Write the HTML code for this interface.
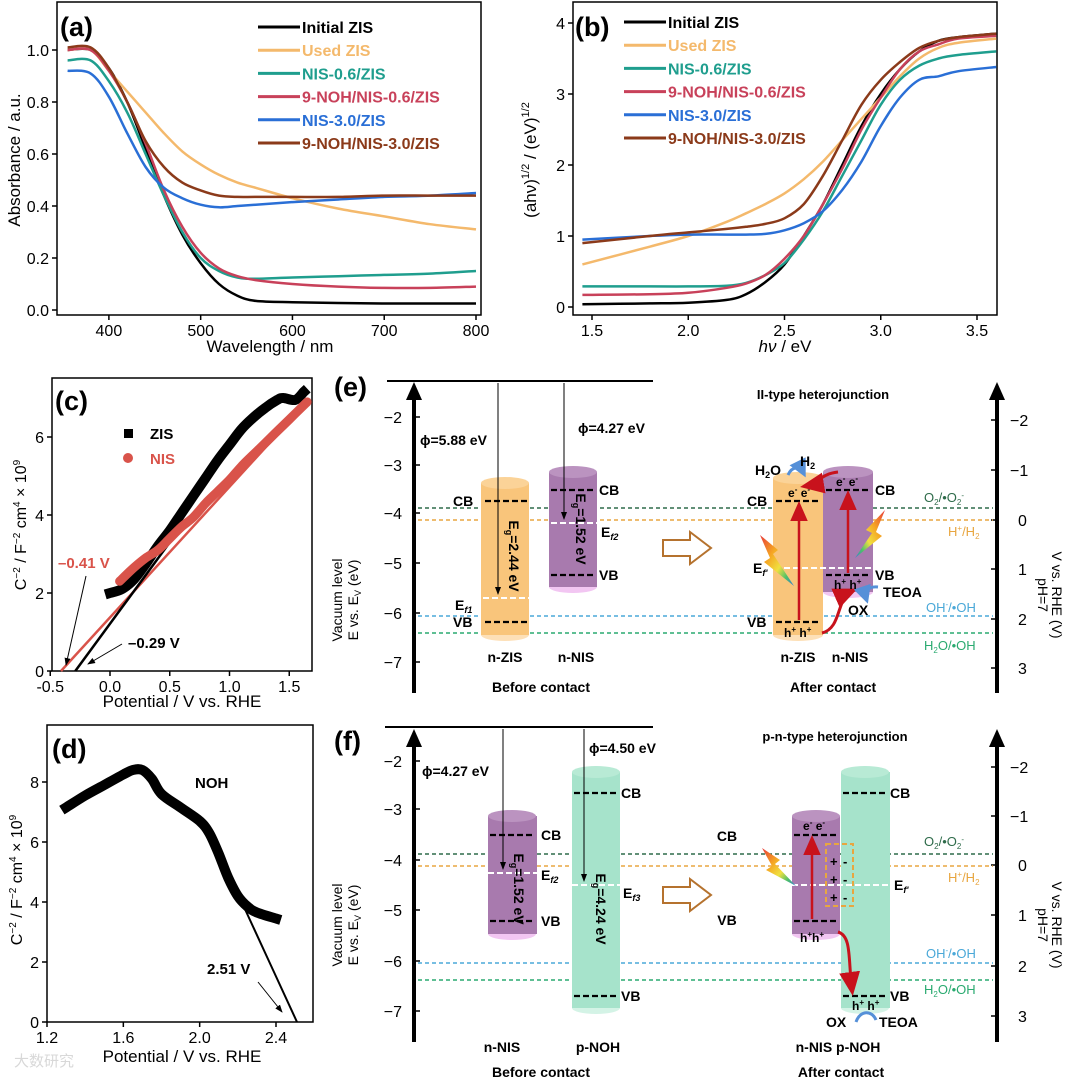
<!DOCTYPE html>
<html><head><meta charset="utf-8">
<style>
html,body{margin:0;padding:0;background:#fff;}
svg{display:block;font-family:"Liberation Sans",Arial,sans-serif;}
.b{font-weight:bold;}
</style></head>
<body>
<svg id="fig" width="1080" height="1079" viewBox="0 0 1080 1079" xmlns="http://www.w3.org/2000/svg">
<defs>
<linearGradient id="rb" x1="0" y1="0" x2="1" y2="1">
<stop offset="0" stop-color="#e83a3a"/><stop offset="0.35" stop-color="#f5a623"/><stop offset="0.6" stop-color="#f0e040"/><stop offset="0.8" stop-color="#4cc06a"/><stop offset="1" stop-color="#3a7ad8"/>
</linearGradient>
<linearGradient id="rb2" x1="1" y1="0" x2="0" y2="1">
<stop offset="0" stop-color="#e83a3a"/><stop offset="0.35" stop-color="#f5a623"/><stop offset="0.6" stop-color="#f0e040"/><stop offset="0.8" stop-color="#4cc06a"/><stop offset="1" stop-color="#3a7ad8"/>
</linearGradient>
<marker id="ah" markerWidth="8" markerHeight="8" refX="7" refY="4" orient="auto"><path d="M0,1 L8,4 L0,7 z" fill="#000"/></marker>
<marker id="ahr" markerWidth="8" markerHeight="8" refX="6" refY="4" orient="auto"><path d="M0,0.5 L8,4 L0,7.5 z" fill="#c8121c"/></marker>
<marker id="ahb" markerWidth="6" markerHeight="6" refX="4" refY="3" orient="auto"><path d="M0,0 L6,3 L0,6 z" fill="#5590d8"/></marker>
</defs>

<!-- ============ Panel (a) ============ -->
<g id="pa">
<rect x="57" y="2" width="424" height="313" fill="none" stroke="#000" stroke-width="1.5"/>
<g id="pa-axes"></g>
<g id="pa-lines"></g>
<text x="60" y="36" font-size="27" class="b">(a)</text>
<text transform="translate(20,160) rotate(-90)" text-anchor="middle" font-size="17">Absorbance / a.u.</text>
<text x="270" y="352" text-anchor="middle" font-size="17">Wavelength / nm</text>
<g id="pa-legend"></g>
</g>

<!-- ============ Panel (b) ============ -->
<g id="pb">
<rect x="573" y="2" width="424" height="313" fill="none" stroke="#000" stroke-width="1.5"/>
<g id="pb-axes"></g>
<g id="pb-lines"></g>
<text x="575" y="36" font-size="27" class="b">(b)</text>
<text transform="translate(536,160) rotate(-90)" text-anchor="middle" font-size="17">(ahν)<tspan font-size="11" dy="-7">1/2</tspan><tspan dy="7"> / (eV)</tspan><tspan font-size="11" dy="-7">1/2</tspan></text>
<text x="785" y="352" text-anchor="middle" font-size="17"><tspan font-style="italic">hν</tspan> / eV</text>
<g id="pb-legend"></g>
</g>

<!-- ============ Panel (c) ============ -->
<g id="pc">
<rect x="52" y="378" width="260" height="293" fill="none" stroke="#000" stroke-width="1.5"/>
<g id="pc-axes"></g>
<g id="pc-lines"></g>
<text x="55" y="410" font-size="27" class="b">(c)</text>
<rect x="124" y="429" width="9" height="9" fill="#000"/>
<text x="150" y="439" font-size="15" class="b">ZIS</text>
<circle cx="128" cy="458" r="5" fill="#d9534a"/>
<text x="150" y="464" font-size="15" class="b" fill="#d9534a">NIS</text>
<text x="58" y="568" font-size="15" class="b" fill="#d9534a">–0.41 V</text>
<line x1="86" y1="576" x2="66" y2="665" stroke="#000" stroke-width="1" marker-end="url(#ah)"/>
<text x="128" y="648" font-size="15" class="b">–0.29 V</text>
<line x1="122" y1="644" x2="88" y2="664" stroke="#000" stroke-width="1" marker-end="url(#ah)"/>
<text transform="translate(26,525) rotate(-90)" text-anchor="middle" font-size="16">C<tspan font-size="10" dy="-6">−2</tspan><tspan dy="6"> / F</tspan><tspan font-size="10" dy="-6">−2</tspan><tspan dy="6"> cm</tspan><tspan font-size="10" dy="-6">4</tspan><tspan dy="6"> × 10</tspan><tspan font-size="10" dy="-6">9</tspan></text>
<text x="182" y="707" text-anchor="middle" font-size="17">Potential / V vs. RHE</text>
</g>

<!-- ============ Panel (d) ============ -->
<g id="pd">
<rect x="47" y="725" width="266" height="297" fill="none" stroke="#000" stroke-width="1.5"/>
<g id="pd-axes"></g>
<g id="pd-lines"></g>
<text x="52" y="758" font-size="27" class="b">(d)</text>
<text x="195" y="788" font-size="15" class="b">NOH</text>
<text x="207" y="974" font-size="15" class="b">2.51 V</text>
<line x1="258" y1="982" x2="282" y2="1012" stroke="#000" stroke-width="1" marker-end="url(#ah)"/>
<text transform="translate(22,880) rotate(-90)" text-anchor="middle" font-size="16">C<tspan font-size="10" dy="-6">−2</tspan><tspan dy="6"> / F</tspan><tspan font-size="10" dy="-6">−2</tspan><tspan dy="6"> cm</tspan><tspan font-size="10" dy="-6">4</tspan><tspan dy="6"> × 10</tspan><tspan font-size="10" dy="-6">9</tspan></text>
<text x="182" y="1062" text-anchor="middle" font-size="17">Potential / V vs. RHE</text>
<text x="14" y="1066" font-size="15" fill="#d8d8d8">大数研究</text>
</g>

<!-- ============ Panel (e) ============ -->
<g id="pe" font-size="13">
<text x="334" y="396" font-size="27" class="b">(e)</text>
<line x1="387" y1="381" x2="653" y2="381" stroke="#000" stroke-width="2"/>
<line x1="414" y1="693" x2="414" y2="398" stroke="#000" stroke-width="4"/>
<path d="M406,400 L414,382 L422,400 z" fill="#000"/>
<line x1="997" y1="693" x2="997" y2="398" stroke="#000" stroke-width="4"/>
<path d="M989,400 L997,382 L1005,400 z" fill="#000"/>
<g font-size="16" text-anchor="end">
<text x="402" y="423">−2</text><text x="402" y="471">−3</text><text x="402" y="519">−4</text><text x="402" y="569">−5</text><text x="402" y="619">−6</text><text x="402" y="668">−7</text>
</g>
<g stroke="#000" stroke-width="1.5">
<line x1="414" y1="417" x2="420" y2="417"/><line x1="414" y1="465" x2="420" y2="465"/><line x1="414" y1="513" x2="420" y2="513"/><line x1="414" y1="563" x2="420" y2="563"/><line x1="414" y1="613" x2="420" y2="613"/><line x1="414" y1="662" x2="420" y2="662"/>
<line x1="991" y1="420" x2="997" y2="420"/><line x1="991" y1="470" x2="997" y2="470"/><line x1="991" y1="520" x2="997" y2="520"/><line x1="991" y1="569" x2="997" y2="569"/><line x1="991" y1="619" x2="997" y2="619"/><line x1="991" y1="668" x2="997" y2="668"/>
</g>
<g font-size="16">
<text x="1010" y="426">−2</text><text x="1010" y="476">−1</text><text x="1018" y="526">0</text><text x="1018" y="575">1</text><text x="1018" y="625">2</text><text x="1018" y="674">3</text>
</g>
<text transform="translate(342,600) rotate(-90)" text-anchor="middle" font-size="14">Vacuum level</text>
<text transform="translate(358,600) rotate(-90)" text-anchor="middle" font-size="14">E vs. E<tspan font-size="9" dy="3">V</tspan><tspan dy="-3"> (eV)</tspan></text>
<text transform="translate(1052,595) rotate(90)" text-anchor="middle" font-size="14">V vs. RHE (V)</text>
<text transform="translate(1038,595) rotate(90)" text-anchor="middle" font-size="14">pH=7</text>
<line x1="418" y1="508" x2="993" y2="508" stroke="#2e6b4a" stroke-width="1.5" stroke-dasharray="4,3"/>
<line x1="418" y1="520" x2="993" y2="520" stroke="#e8a640" stroke-width="1.5" stroke-dasharray="4,3"/>
<line x1="418" y1="616" x2="993" y2="616" stroke="#4aa8d8" stroke-width="1.5" stroke-dasharray="4,3"/>
<line x1="418" y1="633" x2="993" y2="633" stroke="#2aaa70" stroke-width="1.5" stroke-dasharray="4,3"/>
<text x="924" y="502" fill="#2e6b4a" font-size="13">O<tspan font-size="8" dy="3">2</tspan><tspan dy="-3">/•O</tspan><tspan font-size="8" dy="3">2</tspan><tspan font-size="8" dy="-7">-</tspan></text>
<text x="948" y="536" fill="#e8a640" font-size="13">H<tspan font-size="8" dy="-5">+</tspan><tspan dy="5">/H</tspan><tspan font-size="8" dy="3">2</tspan></text>
<text x="926" y="612" fill="#4aa8d8" font-size="13">OH<tspan font-size="8" dy="-5">-</tspan><tspan dy="5">/•OH</tspan></text>
<text x="924" y="650" fill="#2aaa70" font-size="13">H<tspan font-size="8" dy="3">2</tspan><tspan dy="-3">O/•OH</tspan></text>
<g>
<ellipse cx="505" cy="635" rx="24" ry="6" fill="#fde0b8"/>
<rect x="481" y="483" width="48" height="152" fill="#f9c57b"/>
<ellipse cx="505" cy="483" rx="24" ry="6" fill="#fbd398"/>
</g>
<g>
<ellipse cx="573" cy="587" rx="24" ry="6" fill="#f2c6f2"/>
<rect x="549" y="472" width="48" height="115" fill="#a87aae"/>
<ellipse cx="573" cy="472" rx="24" ry="6" fill="#bb93c0"/>
</g>
<g stroke="#000" stroke-width="2.2" stroke-dasharray="6,3">
<line x1="485" y1="501" x2="527" y2="501"/><line x1="485" y1="622" x2="527" y2="622"/>
<line x1="551" y1="490" x2="595" y2="490"/><line x1="551" y1="575" x2="595" y2="575"/>
</g>
<g stroke="#fff" stroke-width="2" stroke-dasharray="6,3">
<line x1="483" y1="598" x2="529" y2="598"/><line x1="551" y1="523" x2="597" y2="523"/>
</g>
<line x1="498" y1="383" x2="498" y2="594" stroke="#000" stroke-width="1" marker-end="url(#ah)"/>
<line x1="564" y1="383" x2="564" y2="519" stroke="#000" stroke-width="1" marker-end="url(#ah)"/>
<text x="420" y="445" font-size="14" class="b">ϕ=5.88 eV</text>
<text x="578" y="433" font-size="14" class="b">ϕ=4.27 eV</text>
<g font-size="14" class="b">
<text x="453" y="506">CB</text><text x="453" y="627">VB</text><text x="455" y="610">E<tspan font-size="9" font-style="italic" dy="3">f1</tspan></text>
<text x="599" y="495">CB</text><text x="599" y="580">VB</text><text x="601" y="537">E<tspan font-size="9" font-style="italic" dy="3">f2</tspan></text>
</g>
<text transform="translate(509,556) rotate(90)" text-anchor="middle" font-size="14" class="b">E<tspan font-size="9" dy="3">g</tspan><tspan dy="-3">=2.44 eV</tspan></text>
<text transform="translate(576,529) rotate(90)" text-anchor="middle" font-size="14" class="b">E<tspan font-size="9" dy="3">g</tspan><tspan dy="-3">=1.52 eV</tspan></text>
<text x="505" y="662" text-anchor="middle" font-size="14" class="b">n-ZIS</text>
<text x="576" y="662" text-anchor="middle" font-size="14" class="b">n-NIS</text>
<text x="541" y="692" text-anchor="middle" font-size="14" class="b">Before contact</text>
<path d="M663,540 L690,540 L690,532 L711,548 L690,564 L690,556 L663,556 z" fill="#fff" stroke="#b5722e" stroke-width="2"/>
<text x="823" y="399" text-anchor="middle" font-size="13" class="b">II-type heterojunction</text>
<g>
<ellipse cx="798" cy="635" rx="25" ry="6" fill="#fde0b8"/>
<rect x="773" y="478" width="50" height="157" fill="#f9c57b"/>
<ellipse cx="798" cy="478" rx="25" ry="6" fill="#fbd398"/>
</g>
<g>
<ellipse cx="848" cy="592" rx="25" ry="6" fill="#f2c6f2"/>
<rect x="823" y="472" width="50" height="120" fill="#a87aae"/>
<ellipse cx="848" cy="472" rx="25" ry="6" fill="#bb93c0"/>
</g>
<g stroke="#000" stroke-width="2.2" stroke-dasharray="6,3">
<line x1="776" y1="501" x2="820" y2="501"/><line x1="776" y1="622" x2="820" y2="622"/>
<line x1="826" y1="490" x2="870" y2="490"/><line x1="826" y1="575" x2="870" y2="575"/>
</g>
<line x1="775" y1="568" x2="871" y2="568" stroke="#fff" stroke-width="2" stroke-dasharray="6,3"/>
<line x1="799" y1="620" x2="799" y2="506" stroke="#c8121c" stroke-width="2.5" marker-end="url(#ahr)"/>
<line x1="848" y1="573" x2="848" y2="495" stroke="#c8121c" stroke-width="2.5" marker-end="url(#ahr)"/>
<path d="M838,472 C820,474 818,484 806,486" fill="none" stroke="#c8121c" stroke-width="3" marker-end="url(#ahr)"/>
<path d="M822,633 C842,628 836,598 852,591" fill="none" stroke="#c8121c" stroke-width="3" marker-end="url(#ahr)"/>
<path d="M788,475 C792,466 800,466 803,472" fill="none" stroke="#5590d8" stroke-width="3" marker-end="url(#ahb)"/>
<path d="M878,587 C868,586 864,592 866,598" fill="none" stroke="#5590d8" stroke-width="3" marker-end="url(#ahb)"/>
<polygon points="760,535 778,550 773,554 794,586 764,562 770,558" fill="url(#rb)"/>
<polygon points="885,510 866,530 872,533 855,558 882,536 876,532" fill="url(#rb2)"/>
<g font-size="14" class="b">
<text x="747" y="506">CB</text><text x="747" y="627">VB</text><text x="753" y="573">E<tspan font-size="9" font-style="italic" dy="3">f'</tspan></text>
<text x="875" y="495">CB</text><text x="875" y="580">VB</text>
<text x="755" y="475">H<tspan font-size="9" dy="3">2</tspan><tspan dy="-3">O</tspan></text>
<text x="800" y="466">H<tspan font-size="9" dy="3">2</tspan></text>
<text x="883" y="597">TEOA</text><text x="848" y="615">OX</text>
</g>
<g font-size="12" class="b">
<text x="788" y="497">e<tspan font-size="8" dy="-5">-</tspan><tspan dy="5"> e</tspan><tspan font-size="8" dy="-5">-</tspan></text>
<text x="836" y="486">e<tspan font-size="8" dy="-5">-</tspan><tspan dy="5"> e</tspan><tspan font-size="8" dy="-5">-</tspan></text>
<text x="784" y="637">h<tspan font-size="8" dy="-5">+</tspan><tspan dy="5"> h</tspan><tspan font-size="8" dy="-5">+</tspan></text>
<text x="834" y="589">h<tspan font-size="8" dy="-5">+</tspan><tspan dy="5"> h</tspan><tspan font-size="8" dy="-5">+</tspan></text>
</g>
<text x="798" y="662" text-anchor="middle" font-size="14" class="b">n-ZIS</text>
<text x="850" y="662" text-anchor="middle" font-size="14" class="b">n-NIS</text>
<text x="833" y="692" text-anchor="middle" font-size="14" class="b">After contact</text>
</g>

<!-- ============ Panel (f) ============ -->
<g id="pf" font-size="13">
<text x="334" y="750" font-size="27" class="b">(f)</text>
<line x1="385" y1="727" x2="653" y2="727" stroke="#000" stroke-width="2"/>
<line x1="414" y1="1042" x2="414" y2="745" stroke="#000" stroke-width="4"/>
<path d="M406,747 L414,729 L422,747 z" fill="#000"/>
<line x1="997" y1="1042" x2="997" y2="745" stroke="#000" stroke-width="4"/>
<path d="M989,747 L997,729 L1005,747 z" fill="#000"/>
<g font-size="16" text-anchor="end">
<text x="402" y="767">−2</text><text x="402" y="815">−3</text><text x="402" y="866">−4</text><text x="402" y="916">−5</text><text x="402" y="967">−6</text><text x="402" y="1017">−7</text>
</g>
<g stroke="#000" stroke-width="1.5">
<line x1="414" y1="761" x2="420" y2="761"/><line x1="414" y1="809" x2="420" y2="809"/><line x1="414" y1="860" x2="420" y2="860"/><line x1="414" y1="910" x2="420" y2="910"/><line x1="414" y1="961" x2="420" y2="961"/><line x1="414" y1="1011" x2="420" y2="1011"/>
<line x1="991" y1="767" x2="997" y2="767"/><line x1="991" y1="816" x2="997" y2="816"/><line x1="991" y1="865" x2="997" y2="865"/><line x1="991" y1="915" x2="997" y2="915"/><line x1="991" y1="966" x2="997" y2="966"/><line x1="991" y1="1016" x2="997" y2="1016"/>
</g>
<g font-size="16">
<text x="1010" y="773">−2</text><text x="1010" y="822">−1</text><text x="1018" y="871">0</text><text x="1018" y="921">1</text><text x="1018" y="972">2</text><text x="1018" y="1022">3</text>
</g>
<text transform="translate(342,925) rotate(-90)" text-anchor="middle" font-size="14">Vacuum level</text>
<text transform="translate(358,925) rotate(-90)" text-anchor="middle" font-size="14">E vs. E<tspan font-size="9" dy="3">V</tspan><tspan dy="-3"> (eV)</tspan></text>
<text transform="translate(1052,925) rotate(90)" text-anchor="middle" font-size="14">V vs. RHE (V)</text>
<text transform="translate(1038,925) rotate(90)" text-anchor="middle" font-size="14">pH=7</text>
<line x1="418" y1="854" x2="993" y2="854" stroke="#2e6b4a" stroke-width="1.5" stroke-dasharray="4,3"/>
<line x1="418" y1="866" x2="993" y2="866" stroke="#e8a640" stroke-width="1.5" stroke-dasharray="4,3"/>
<line x1="418" y1="963" x2="993" y2="963" stroke="#4aa8d8" stroke-width="1.5" stroke-dasharray="4,3"/>
<line x1="418" y1="980" x2="993" y2="980" stroke="#2aaa70" stroke-width="1.5" stroke-dasharray="4,3"/>
<text x="924" y="846" fill="#2e6b4a" font-size="13">O<tspan font-size="8" dy="3">2</tspan><tspan dy="-3">/•O</tspan><tspan font-size="8" dy="3">2</tspan><tspan font-size="8" dy="-7">-</tspan></text>
<text x="948" y="882" fill="#e8a640" font-size="13">H<tspan font-size="8" dy="-5">+</tspan><tspan dy="5">/H</tspan><tspan font-size="8" dy="3">2</tspan></text>
<text x="926" y="958" fill="#4aa8d8" font-size="13">OH<tspan font-size="8" dy="-5">-</tspan><tspan dy="5">/•OH</tspan></text>
<text x="924" y="994" fill="#2aaa70" font-size="13">H<tspan font-size="8" dy="3">2</tspan><tspan dy="-3">O/•OH</tspan></text>
<g>
<ellipse cx="512" cy="934" rx="24" ry="6" fill="#f2c6f2"/>
<rect x="488" y="816" width="49" height="118" fill="#a87aae"/>
<ellipse cx="512" cy="816" rx="24" ry="6" fill="#bb93c0"/>
</g>
<g>
<ellipse cx="596" cy="1008" rx="24" ry="6" fill="#d4f3e6"/>
<rect x="572" y="772" width="48" height="236" fill="#a6e3cb"/>
<ellipse cx="596" cy="772" rx="24" ry="6" fill="#b8ead5"/>
</g>
<g stroke="#000" stroke-width="2.2" stroke-dasharray="6,3">
<line x1="490" y1="835" x2="535" y2="835"/><line x1="490" y1="921" x2="535" y2="921"/>
<line x1="574" y1="793" x2="618" y2="793"/><line x1="574" y1="996" x2="618" y2="996"/>
</g>
<g stroke="#fff" stroke-width="2" stroke-dasharray="6,3">
<line x1="488" y1="873" x2="537" y2="873"/><line x1="572" y1="885" x2="620" y2="885"/>
</g>
<line x1="503" y1="729" x2="503" y2="869" stroke="#000" stroke-width="1" marker-end="url(#ah)"/>
<line x1="584" y1="729" x2="584" y2="881" stroke="#000" stroke-width="1" marker-end="url(#ah)"/>
<text x="422" y="776" font-size="14" class="b">ϕ=4.27 eV</text>
<text x="589" y="753" font-size="14" class="b">ϕ=4.50 eV</text>
<g font-size="14" class="b">
<text x="541" y="840">CB</text><text x="541" y="926">VB</text><text x="541" y="880">E<tspan font-size="9" font-style="italic" dy="3">f2</tspan></text>
<text x="621" y="798">CB</text><text x="621" y="1001">VB</text><text x="623" y="898">E<tspan font-size="9" font-style="italic" dy="3">f3</tspan></text>
</g>
<text transform="translate(514,889) rotate(90)" text-anchor="middle" font-size="14" class="b">E<tspan font-size="9" dy="3">g</tspan><tspan dy="-3">=1.52 eV</tspan></text>
<text transform="translate(596,909) rotate(90)" text-anchor="middle" font-size="14" class="b">E<tspan font-size="9" dy="3">g</tspan><tspan dy="-3">=4.24 eV</tspan></text>
<text x="502" y="1052" text-anchor="middle" font-size="14" class="b">n-NIS</text>
<text x="598" y="1052" text-anchor="middle" font-size="14" class="b">p-NOH</text>
<text x="541" y="1077" text-anchor="middle" font-size="14" class="b">Before contact</text>
<path d="M663,887 L690,887 L690,879 L711,895 L690,911 L690,903 L663,903 z" fill="#fff" stroke="#b5722e" stroke-width="2"/>
<text x="727" y="841" text-anchor="middle" font-size="14" class="b">CB</text>
<text x="727" y="925" text-anchor="middle" font-size="14" class="b">VB</text>
<text x="835" y="741" text-anchor="middle" font-size="13" class="b">p-n-type heterojunction</text>
<g>
<ellipse cx="816" cy="934" rx="24" ry="6" fill="#f2c6f2"/>
<rect x="792" y="816" width="48" height="118" fill="#a87aae"/>
<ellipse cx="816" cy="816" rx="24" ry="6" fill="#bb93c0"/>
</g>
<g>
<ellipse cx="865" cy="1008" rx="24" ry="6" fill="#d4f3e6"/>
<rect x="841" y="772" width="49" height="236" fill="#a6e3cb"/>
<ellipse cx="865" cy="772" rx="24" ry="6" fill="#b8ead5"/>
</g>
<g stroke="#000" stroke-width="2.2" stroke-dasharray="6,3">
<line x1="794" y1="835" x2="838" y2="835"/><line x1="794" y1="921" x2="838" y2="921"/>
<line x1="843" y1="793" x2="887" y2="793"/><line x1="843" y1="996" x2="887" y2="996"/>
</g>
<line x1="792" y1="885" x2="890" y2="885" stroke="#fff" stroke-width="2" stroke-dasharray="6,3"/>
<rect x="826" y="844" width="27" height="62" fill="none" stroke="#e8a640" stroke-width="2" stroke-dasharray="5,3"/>
<g font-size="13" class="b">
<text x="830" y="866">+</text><text x="843" y="866">-</text><text x="830" y="884">+</text><text x="843" y="884">-</text><text x="830" y="902">+</text><text x="843" y="902">-</text>
</g>
<line x1="812" y1="919" x2="812" y2="840" stroke="#c8121c" stroke-width="2.5" marker-end="url(#ahr)"/>
<path d="M838,932 C852,936 848,960 852,990" fill="none" stroke="#c8121c" stroke-width="3" marker-end="url(#ahr)"/>
<path d="M856,1022 C860,1010 872,1010 876,1020" fill="none" stroke="#5590d8" stroke-width="3"/>
<polygon points="762,848 780,860 775,864 796,886 766,870 772,866" fill="url(#rb)"/>
<g font-size="14" class="b">
<text x="890" y="798">CB</text><text x="890" y="1001">VB</text><text x="894" y="890">E<tspan font-size="9" font-style="italic" dy="3">f'</tspan></text>
<text x="826" y="1027">OX</text><text x="879" y="1027">TEOA</text>
</g>
<g font-size="12" class="b">
<text x="803" y="830">e<tspan font-size="8" dy="-5">-</tspan><tspan dy="5"> e</tspan><tspan font-size="8" dy="-5">-</tspan></text>
<text x="800" y="942">h<tspan font-size="8" dy="-5">+</tspan><tspan dy="5">h</tspan><tspan font-size="8" dy="-5">+</tspan></text>
<text x="852" y="1010">h<tspan font-size="8" dy="-5">+</tspan><tspan dy="5"> h</tspan><tspan font-size="8" dy="-5">+</tspan></text>
</g>
<text x="838" y="1052" text-anchor="middle" font-size="14" class="b">n-NIS  p-NOH</text>
<text x="841" y="1077" text-anchor="middle" font-size="14" class="b">After contact</text>
</g>
</svg>

<script>
// ---------- data: panel (a) ----------
const aWave = [355,380,400,420,440,460,480,500,520,540,560,600,650,700,750,800];
const aInitial = [1.0,1.0,0.93,0.80,0.62,0.44,0.29,0.18,0.10,0.055,0.035,0.03,0.027,0.025,0.025,0.025];
const aUsed = [1.0,1.0,0.92,0.84,0.76,0.68,0.61,0.56,0.52,0.49,0.47,0.43,0.39,0.36,0.33,0.31];
const aNis06 = [0.96,0.96,0.88,0.76,0.60,0.44,0.30,0.20,0.15,0.125,0.12,0.125,0.13,0.135,0.14,0.15];
const aNoh06 = [1.0,1.0,0.92,0.80,0.64,0.46,0.32,0.22,0.16,0.13,0.115,0.10,0.09,0.085,0.085,0.09];
const aNis30 = [0.92,0.91,0.82,0.68,0.55,0.47,0.43,0.405,0.395,0.40,0.405,0.415,0.425,0.435,0.44,0.45];
const aNoh30 = [1.01,1.01,0.93,0.80,0.65,0.55,0.49,0.46,0.44,0.435,0.435,0.435,0.435,0.44,0.44,0.44];
const aXTicks = [400,500,600,700,800];
const aYTicks = [0.0,0.2,0.4,0.6,0.8,1.0];
// ---------- data: panel (b) ----------
const bEnergy = [1.45,1.8,2.0,2.2,2.3,2.4,2.5,2.6,2.7,2.8,2.9,3.0,3.1,3.2,3.3,3.4,3.6];
const bInitial = [0.04,0.05,0.06,0.1,0.18,0.35,0.6,1.0,1.45,2.0,2.55,3.0,3.35,3.6,3.75,3.8,3.85];
const bUsed = [0.6,0.85,1.0,1.2,1.32,1.45,1.6,1.8,2.05,2.35,2.65,2.95,3.25,3.5,3.65,3.72,3.78];
const bNis06 = [0.29,0.29,0.29,0.3,0.34,0.45,0.62,0.95,1.35,1.85,2.35,2.85,3.2,3.4,3.5,3.55,3.6];
const bNoh06 = [0.17,0.18,0.2,0.27,0.33,0.45,0.68,1.0,1.45,1.95,2.5,2.95,3.35,3.6,3.7,3.78,3.82];
const bNis30 = [0.95,1.0,1.02,1.02,1.02,1.03,1.08,1.18,1.35,1.65,2.05,2.55,2.95,3.2,3.25,3.32,3.38];
const bNoh30 = [0.9,1.0,1.05,1.1,1.13,1.17,1.25,1.45,1.85,2.35,2.85,3.2,3.45,3.65,3.75,3.8,3.85];
const bXTicks = [1.5,2.0,2.5,3.0,3.5];
const bYTicks = [0,1,2,3,4];
// ---------- data: panel (c) ----------
const cZisV = [0.0,0.1,0.2,0.3,0.4,0.5,0.6,0.7,0.8,0.9,1.0,1.1,1.2,1.3,1.4,1.45,1.55,1.62];
const cZisC = [2.0,2.1,2.35,2.75,3.2,3.6,4.05,4.5,4.95,5.4,5.8,6.2,6.5,6.75,6.95,7.0,6.95,7.15];
const cNisV = [0.08,0.2,0.3,0.4,0.5,0.6,0.7,0.8,0.9,1.0,1.1,1.2,1.3,1.4,1.5,1.6,1.65];
const cNisC = [2.3,2.65,2.9,3.1,3.4,3.7,3.95,4.3,4.6,4.9,5.25,5.55,5.85,6.15,6.45,6.75,6.9];
const cZisFitV = [-0.29,0.5];
const cZisFitC = [0,3.3];
const cNisFitV = [-0.41,1.65];
const cNisFitC = [0,6.9];
const cXTicks = [-0.5,0.0,0.5,1.0,1.5];
const cYTicks = [0,2,4,6];
// ---------- data: panel (d) ----------
const dV = [1.3,1.4,1.5,1.6,1.65,1.7,1.75,1.8,1.9,2.0,2.05,2.1,2.15,2.2,2.25,2.3,2.4];
const dC = [7.15,7.55,7.9,8.25,8.4,8.4,8.1,7.6,7.15,6.7,6.3,5.6,4.8,4.2,3.85,3.65,3.45];
const dFitV = [2.22,2.51];
const dFitC = [4.0,0];
const dXTicks = [1.2,1.6,2.0,2.4];
const dYTicks = [0,2,4,6,8];

const legendNames = ['Initial ZIS','Used ZIS','NIS-0.6/ZIS','9-NOH/NIS-0.6/ZIS','NIS-3.0/ZIS','9-NOH/NIS-3.0/ZIS'];
const legendColors = ['#000000','#f4b96c','#1f9e8e','#c8415a','#2a6fd6','#8b3a1a'];

const NS='http://www.w3.org/2000/svg';
function mk(tag, parent){ const e=document.createElementNS(NS,tag); parent.appendChild(e); return e; }
function lin(d0,d1,r0,r1){ return v => r0+(v-d0)*(r1-r0)/(d1-d0); }
function smoothPath(xs,ys,sx,sy){
  const p=xs.map((x,i)=>[sx(x),sy(ys[i])]);
  let d='M'+p[0][0].toFixed(1)+','+p[0][1].toFixed(1);
  for(let i=0;i<p.length-1;i++){
    const p0=p[Math.max(0,i-1)],p1=p[i],p2=p[i+1],p3=p[Math.min(p.length-1,i+2)];
    const c1=[p1[0]+(p2[0]-p0[0])/6,p1[1]+(p2[1]-p0[1])/6];
    const c2=[p2[0]-(p3[0]-p1[0])/6,p2[1]-(p3[1]-p1[1])/6];
    d+=' C'+c1[0].toFixed(1)+','+c1[1].toFixed(1)+' '+c2[0].toFixed(1)+','+c2[1].toFixed(1)+' '+p2[0].toFixed(1)+','+p2[1].toFixed(1);
  }
  return d;
}
function axes(g, xt, yt, sx, sy, yb, xl, fmtX, fmtY){
  xt.forEach(t=>{
    const l=mk('line',g); l.setAttribute('x1',sx(t)); l.setAttribute('x2',sx(t)); l.setAttribute('y1',yb); l.setAttribute('y2',yb+5); l.setAttribute('stroke','#000'); l.setAttribute('stroke-width','1.5');
    
    
    const tx=mk('text',g); tx.setAttribute('x',sx(t)); tx.setAttribute('y',yb+21); tx.setAttribute('text-anchor','middle'); tx.setAttribute('font-size','16'); tx.textContent=fmtX(t);
    
    
  });
  yt.forEach(t=>{
    const l=mk('line',g); l.setAttribute('x1',xl-5); l.setAttribute('x2',xl); l.setAttribute('y1',sy(t)); l.setAttribute('y2',sy(t)); l.setAttribute('stroke','#000'); l.setAttribute('stroke-width','1.5');
    
    
    const tx=mk('text',g); tx.setAttribute('x',xl-8); tx.setAttribute('y',sy(t)+6); tx.setAttribute('text-anchor','end'); tx.setAttribute('font-size','16'); tx.textContent=fmtY(t);
    
    
  });
}
function drawLine(g, xs, ys, sx, sy, color, w, name){
  const p=mk('path',g); p.setAttribute('d',smoothPath(xs,ys,sx,sy)); p.setAttribute('fill','none'); p.setAttribute('stroke',color); p.setAttribute('stroke-width',w); p.setAttribute('stroke-linejoin','round');
  
  
  return p;
}
function legend(g, x0, y0, dy){
  legendNames.forEach((n,i)=>{
    const l=mk('line',g); l.setAttribute('x1',x0); l.setAttribute('x2',x0+42); l.setAttribute('y1',y0+i*dy); l.setAttribute('y2',y0+i*dy); l.setAttribute('stroke',legendColors[i]); l.setAttribute('stroke-width','3');
    
    
    const t=mk('text',g); t.setAttribute('x',x0+44); t.setAttribute('y',y0+i*dy+6); t.setAttribute('font-size','16'); t.setAttribute('font-weight','bold'); t.setAttribute('fill',legendColors[i]); t.textContent=n;
    
    
  });
}

const axA=lin(350,800,63,476), ayA=lin(0,1,310,50);
axes(document.getElementById('pa-axes'),aXTicks,aYTicks,axA,ayA,315,57,t=>String(t),t=>t.toFixed(1));
{
 const g=document.getElementById('pa-lines');
 [aInitial,aUsed,aNis06,aNoh06,aNis30,aNoh30].forEach((s,i)=>drawLine(g,aWave,s,axA,ayA,legendColors[i],2.5,'line-a-'+i));
 legend(document.getElementById('pa-legend'),258,27,23.2);
}
const axB=lin(1.5,3.5,592,977), ayB=lin(0,4,307,23);
axes(document.getElementById('pb-axes'),bXTicks,bYTicks,axB,ayB,315,573,t=>t.toFixed(1),t=>String(t));
{
 const g=document.getElementById('pb-lines');
 [bInitial,bUsed,bNis06,bNoh06,bNis30,bNoh30].forEach((s,i)=>drawLine(g,bEnergy,s,axB,ayB,legendColors[i],2.5,'line-b-'+i));
 legend(document.getElementById('pb-legend'),624,22,23.2);
}
const axC=lin(0,1,110,229.5), ayC=lin(0,6,671,437);
axes(document.getElementById('pc-axes'),cXTicks,cYTicks,axC,ayC,671,52,t=>t.toFixed(1),t=>String(t));
{
 const g=document.getElementById('pc-lines');
 drawLine(g,cNisFitV,cNisFitC,axC,ayC,'#d9534a',2.5,'fit-line-nis');
 drawLine(g,cZisFitV,cZisFitC,axC,ayC,'#000',2.5,'fit-line-zis');
 const z=drawLine(g,cZisV,cZisC,axC,ayC,'#000',10,'series-zis'); z.setAttribute('stroke-linecap','square');
 const n=drawLine(g,cNisV,cNisC,axC,ayC,'#d9534a',9,'series-nis'); n.setAttribute('stroke-linecap','round');
}
const axD=lin(1.2,2.4,47,276), ayD=lin(0,8,1022,782);
axes(document.getElementById('pd-axes'),dXTicks,dYTicks,axD,ayD,1022,47,t=>t.toFixed(1),t=>String(t));
{
 const g=document.getElementById('pd-lines');
 drawLine(g,dFitV,dFitC,axD,ayD,'#000',2,'fit-line-noh');
 const s=drawLine(g,dV,dC,axD,ayD,'#000',10,'series-noh'); s.setAttribute('stroke-linecap','square');
}
</script>
</body></html>
